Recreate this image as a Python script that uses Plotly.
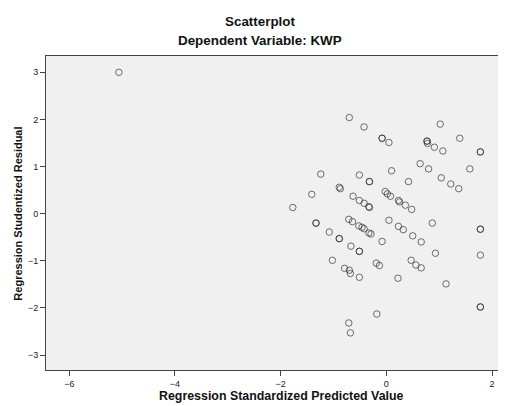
import plotly.graph_objects as go

# Regression Standardized Predicted Value (x) and Studentized Residual (y)
pred = [-5.06, -1.77, -1.41, -1.24, -1.33, -1.33, -1.08, -0.89, -0.89, -1.02,
        -0.89, -0.87, -0.70, -0.42, -0.08, -0.08, 0.05, -0.51, -0.32, -0.32,
        0.10, -0.63, -0.51, -0.42, -0.33, -0.32, -0.02, 0.02, 0.08, 0.23,
        0.25, 0.36, 0.48, -0.71, -0.64, -0.52, -0.46, -0.42, -0.33, -0.29,
        0.05, 0.23, 0.32, 0.50, 0.66, 0.87, 1.78, 1.78, -0.08, -0.67,
        -0.51, -0.51, 0.93, 1.78, -0.79, -0.70, -0.68, -0.51, -0.19, -0.13,
        0.47, 0.56, 0.66, 0.22, 1.13, 1.78, 1.78, -0.18, -0.71, -0.68,
        1.02, 0.77, 0.77, 0.78, 0.91, 1.07, 1.39, 1.78, 1.78, 0.64,
        0.80, 0.42, 1.04, 1.22, 1.37, 1.58]
resid = [3.00, 0.13, 0.41, 0.84, -0.20, -0.20, -0.39, -0.53, -0.53, -0.99,
         0.56, 0.53, 2.04, 1.84, 1.60, 1.60, 1.51, 0.82, 0.68, 0.68,
         0.91, 0.37, 0.28, 0.22, 0.15, 0.13, 0.47, 0.42, 0.37, 0.28,
         0.25, 0.18, 0.09, -0.12, -0.17, -0.26, -0.29, -0.32, -0.41, -0.43,
         -0.14, -0.27, -0.34, -0.47, -0.60, -0.20, -0.33, -0.33, -0.59, -0.69,
         -0.80, -0.80, -0.84, -0.88, -1.16, -1.20, -1.27, -1.35, -1.05, -1.10,
         -0.99, -1.09, -1.15, -1.37, -1.49, -1.98, -1.98, -2.13, -2.32, -2.53,
         1.90, 1.54, 1.54, 1.49, 1.41, 1.33, 1.60, 1.31, 1.31, 1.06,
         0.95, 0.68, 0.76, 0.63, 0.53, 0.95]

x_ticks = [-6, -4, -2, 0, 2]
y_ticks = [-3, -2, -1, 0, 1, 2, 3]

title_main = "Scatterplot"
title_sub = "Dependent Variable: KWP"
x_title = "Regression Standardized Predicted Value"
y_title = "Regression Studentized Residual"

font_family = "Liberation Sans, Arial, sans-serif"
axis_color = "#444444"

fig = go.Figure()
fig.add_trace(go.Scatter(
    x=pred, y=resid, mode="markers",
    marker=dict(symbol="circle-open", size=6.5,
                color="rgba(30,30,30,0.62)",
                line=dict(width=1, color="rgba(30,30,30,0.62)")),
    hoverinfo="skip", showlegend=False,
))

fig.update_layout(
    width=498, height=398,
    margin=dict(l=38, r=0, t=48, b=36, pad=0),
    paper_bgcolor="white",
    plot_bgcolor="#F0F0F0",
    font=dict(family=font_family, color="#222222"),
    xaxis=dict(range=[-6.44, 2.265], tickvals=x_ticks, ticks="outside",
               ticklen=5, tickcolor=axis_color, showgrid=False, zeroline=False,
               showline=True, linecolor=axis_color, linewidth=1, mirror=True,
               tickfont=dict(size=9, color="#222222")),
    yaxis=dict(range=[-3.318, 3.346], tickvals=y_ticks, ticks="outside",
               ticklen=5, tickcolor=axis_color, showgrid=False, zeroline=False,
               showline=True, linecolor=axis_color, linewidth=1,
               tickfont=dict(size=9, color="#222222")),
    annotations=[
        dict(text="<b>%s</b>" % title_main, x=0.465, y=1.111, xref="paper", yref="paper",
             xanchor="center", yanchor="middle", showarrow=False,
             font=dict(size=13.4, color="#111111")),
        dict(text="<b>%s</b>" % title_sub, x=0.465, y=1.048, xref="paper", yref="paper",
             xanchor="center", yanchor="middle", showarrow=False,
             font=dict(size=13.4, color="#111111")),
        dict(text="<b>%s</b>" % x_title, x=0.511, y=-0.084, xref="paper", yref="paper",
             xanchor="center", yanchor="middle", showarrow=False,
             font=dict(size=12.4, color="#111111")),
        dict(text="<b>%s</b>" % y_title, x=-0.0615, y=0.497, xref="paper", yref="paper",
             xanchor="center", yanchor="middle", showarrow=False, textangle=-90,
             font=dict(size=11, color="#111111")),
    ],
)

fig.write_html("out.html")
